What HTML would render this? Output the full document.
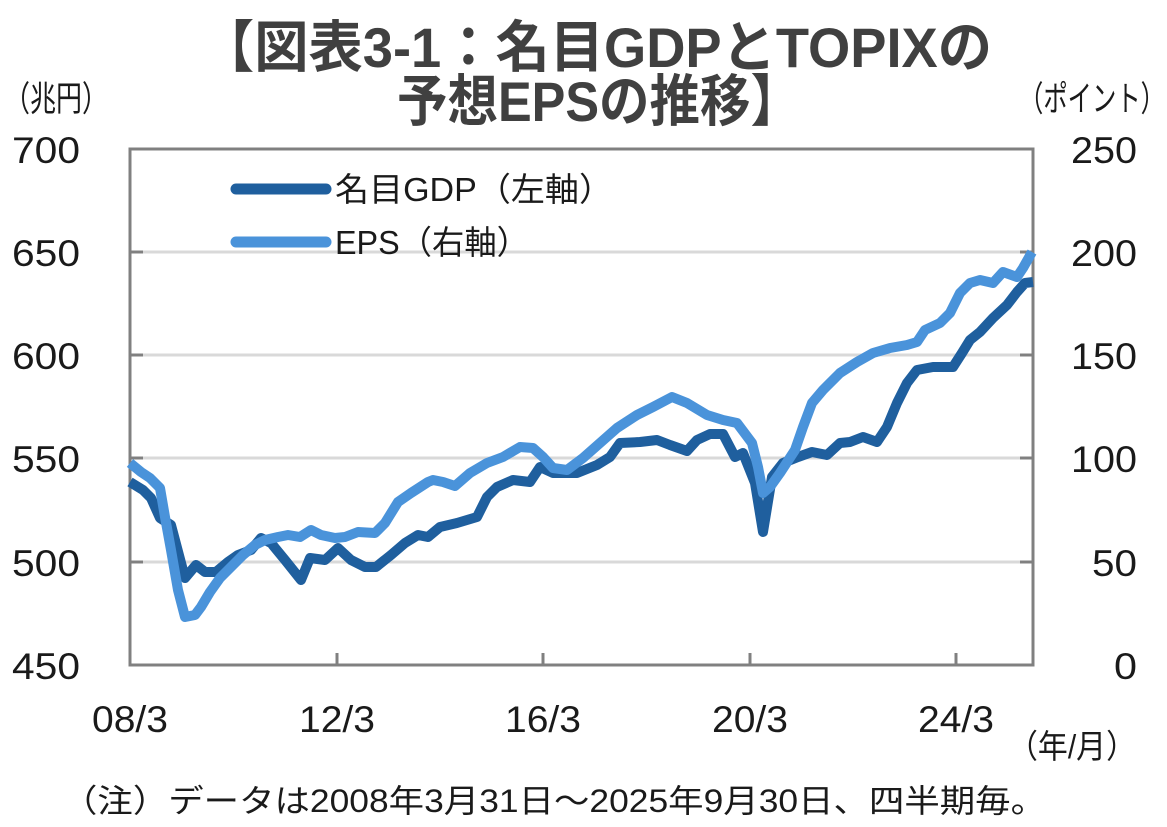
<!DOCTYPE html>
<html><head><meta charset="utf-8">
<style>
html,body{margin:0;padding:0;background:#fff;}
svg{display:block;}
.jp{font-family:"Liberation Sans","Noto Sans CJK JP",sans-serif;}
.num{font-family:"Liberation Sans","Noto Sans CJK JP",sans-serif;font-size:37px;fill:#1a1a1a;}
</style></head>
<body>
<svg width="1167" height="827" viewBox="0 0 1167 827" xmlns="http://www.w3.org/2000/svg">
<rect width="1167" height="827" fill="#fff"/>
<!-- Title -->
<text class="jp" x="200" y="67" font-size="56" font-weight="bold" fill="#404040" textLength="792" lengthAdjust="spacingAndGlyphs">【図表3-1：名目GDPとTOPIXの</text>
<text class="jp" x="397" y="121" font-size="56" font-weight="bold" fill="#404040" textLength="404" lengthAdjust="spacingAndGlyphs">予想EPSの推移】</text>
<!-- unit labels -->
<text class="jp" x="4" y="111" font-size="35" fill="#1a1a1a" textLength="104" lengthAdjust="spacingAndGlyphs">（兆円）</text>
<text class="jp" x="1019" y="111" font-size="35" fill="#1a1a1a" textLength="146" lengthAdjust="spacingAndGlyphs">（ポイント）</text>
<!-- gridlines -->
<g stroke="#d9d9d9" stroke-width="3">
<line x1="131" y1="252" x2="1032" y2="252"/>
<line x1="131" y1="355" x2="1032" y2="355"/>
<line x1="131" y1="458" x2="1032" y2="458"/>
<line x1="131" y1="562" x2="1032" y2="562"/>
</g>
<!-- ticks -->
<g stroke="#808080" stroke-width="3">
<line x1="130" y1="252" x2="143" y2="252"/>
<line x1="130" y1="355" x2="143" y2="355"/>
<line x1="130" y1="458" x2="143" y2="458"/>
<line x1="130" y1="562" x2="143" y2="562"/>
<line x1="1020" y1="252" x2="1033" y2="252"/>
<line x1="1020" y1="355" x2="1033" y2="355"/>
<line x1="1020" y1="458" x2="1033" y2="458"/>
<line x1="1020" y1="562" x2="1033" y2="562"/>
<line x1="337" y1="653" x2="337" y2="665"/>
<line x1="543" y1="653" x2="543" y2="665"/>
<line x1="750" y1="653" x2="750" y2="665"/>
<line x1="956" y1="653" x2="956" y2="665"/>
</g>
<!-- frame -->
<rect x="130" y="149" width="903" height="516" fill="none" stroke="#808080" stroke-width="3"/>
<!-- left axis labels -->
<text class="num" x="12" y="163" textLength="68" lengthAdjust="spacingAndGlyphs">700</text>
<text class="num" x="12" y="266" textLength="68" lengthAdjust="spacingAndGlyphs">650</text>
<text class="num" x="12" y="369" textLength="68" lengthAdjust="spacingAndGlyphs">600</text>
<text class="num" x="12" y="472" textLength="68" lengthAdjust="spacingAndGlyphs">550</text>
<text class="num" x="12" y="576" textLength="68" lengthAdjust="spacingAndGlyphs">500</text>
<text class="num" x="12" y="679" textLength="68" lengthAdjust="spacingAndGlyphs">450</text>
<!-- right axis labels -->
<text class="num" x="1071" y="163" textLength="66" lengthAdjust="spacingAndGlyphs">250</text>
<text class="num" x="1071" y="266" textLength="66" lengthAdjust="spacingAndGlyphs">200</text>
<text class="num" x="1071" y="369" textLength="66" lengthAdjust="spacingAndGlyphs">150</text>
<text class="num" x="1071" y="472" textLength="66" lengthAdjust="spacingAndGlyphs">100</text>
<text class="num" x="1092" y="576" textLength="45" lengthAdjust="spacingAndGlyphs">50</text>
<text class="num" x="1114" y="679" textLength="23" lengthAdjust="spacingAndGlyphs">0</text>
<!-- x labels -->
<text class="num" x="92" y="732" textLength="76" lengthAdjust="spacingAndGlyphs">08/3</text>
<text class="num" x="299" y="732" textLength="76" lengthAdjust="spacingAndGlyphs">12/3</text>
<text class="num" x="505" y="732" textLength="76" lengthAdjust="spacingAndGlyphs">16/3</text>
<text class="num" x="712" y="732" textLength="76" lengthAdjust="spacingAndGlyphs">20/3</text>
<text class="num" x="918" y="732" textLength="76" lengthAdjust="spacingAndGlyphs">24/3</text>
<text class="jp" x="1008" y="758" font-size="33" fill="#1a1a1a" textLength="128" lengthAdjust="spacingAndGlyphs">（年/月）</text>
<!-- note -->
<text class="jp" x="62" y="812" font-size="32" fill="#1a1a1a" textLength="984" lengthAdjust="spacingAndGlyphs">（注）データは2008年3月31日～2025年9月30日、四半期毎。</text>
<!-- legend -->
<line x1="236" y1="189" x2="326" y2="189" stroke="#1f5f9e" stroke-width="11" stroke-linecap="round"/>
<line x1="236" y1="242" x2="326" y2="242" stroke="#4a93da" stroke-width="11" stroke-linecap="round"/>
<text class="jp" x="335" y="201" font-size="33" fill="#1a1a1a" textLength="278" lengthAdjust="spacingAndGlyphs">名目GDP（左軸）</text>
<text class="jp" x="335" y="254" font-size="33" fill="#1a1a1a" textLength="194" lengthAdjust="spacingAndGlyphs">EPS（右軸）</text>
<!-- GDP -->
<polyline fill="none" stroke="#1f5f9e" stroke-width="10" stroke-linejoin="round" stroke-linecap="butt" points="130,482 143,490 151,498 160,518 171,525 185,578 196,565 205,572 216,572 228,562 238,555 251,550 261,538 271,543 285,560 301,580 310,558 325,560 338,548 351,560 365,567 376,567 391,555 405,543 418,535 428,537 440,527 457,523 477,517 487,497 497,487 513,480 530,482 540,467 553,473 577,473 597,465 610,457 620,443 640,442 657,440 670,445 687,451 697,440 710,434 723,434 735,457 743,453 755,483 763,532 772,477 783,463 798,457 812,452 827,455 840,443 850,442 863,437 877,442 887,427 897,403 907,383 917,370 933,367 953,367 962,353 970,340 980,332 993,318 1007,305 1017,292 1025,283 1033,282"/>
<!-- EPS -->
<polyline fill="none" stroke="#4a93da" stroke-width="10" stroke-linejoin="round" stroke-linecap="butt" points="130,463 141,472 150,478 160,488 165,517 171,550 178,590 185,617 195,615 201,607 210,592 220,578 231,567 243,555 255,545 265,540 278,537 288,535 300,537 311,530 321,535 335,538 345,537 358,532 375,533 385,523 398,502 411,493 428,482 433,480 443,482 455,486 470,473 487,463 503,457 520,447 533,448 543,457 553,468 567,470 583,458 600,443 617,428 637,415 653,407 672,397 687,403 707,415 723,420 737,423 752,443 758,467 763,493 770,487 780,473 795,450 803,427 812,403 823,390 840,373 857,362 873,353 890,348 907,345 917,342 925,330 940,323 950,313 960,293 970,283 980,280 993,283 1003,272 1017,277 1023,268 1032,252"/>
</svg>
</body></html>
